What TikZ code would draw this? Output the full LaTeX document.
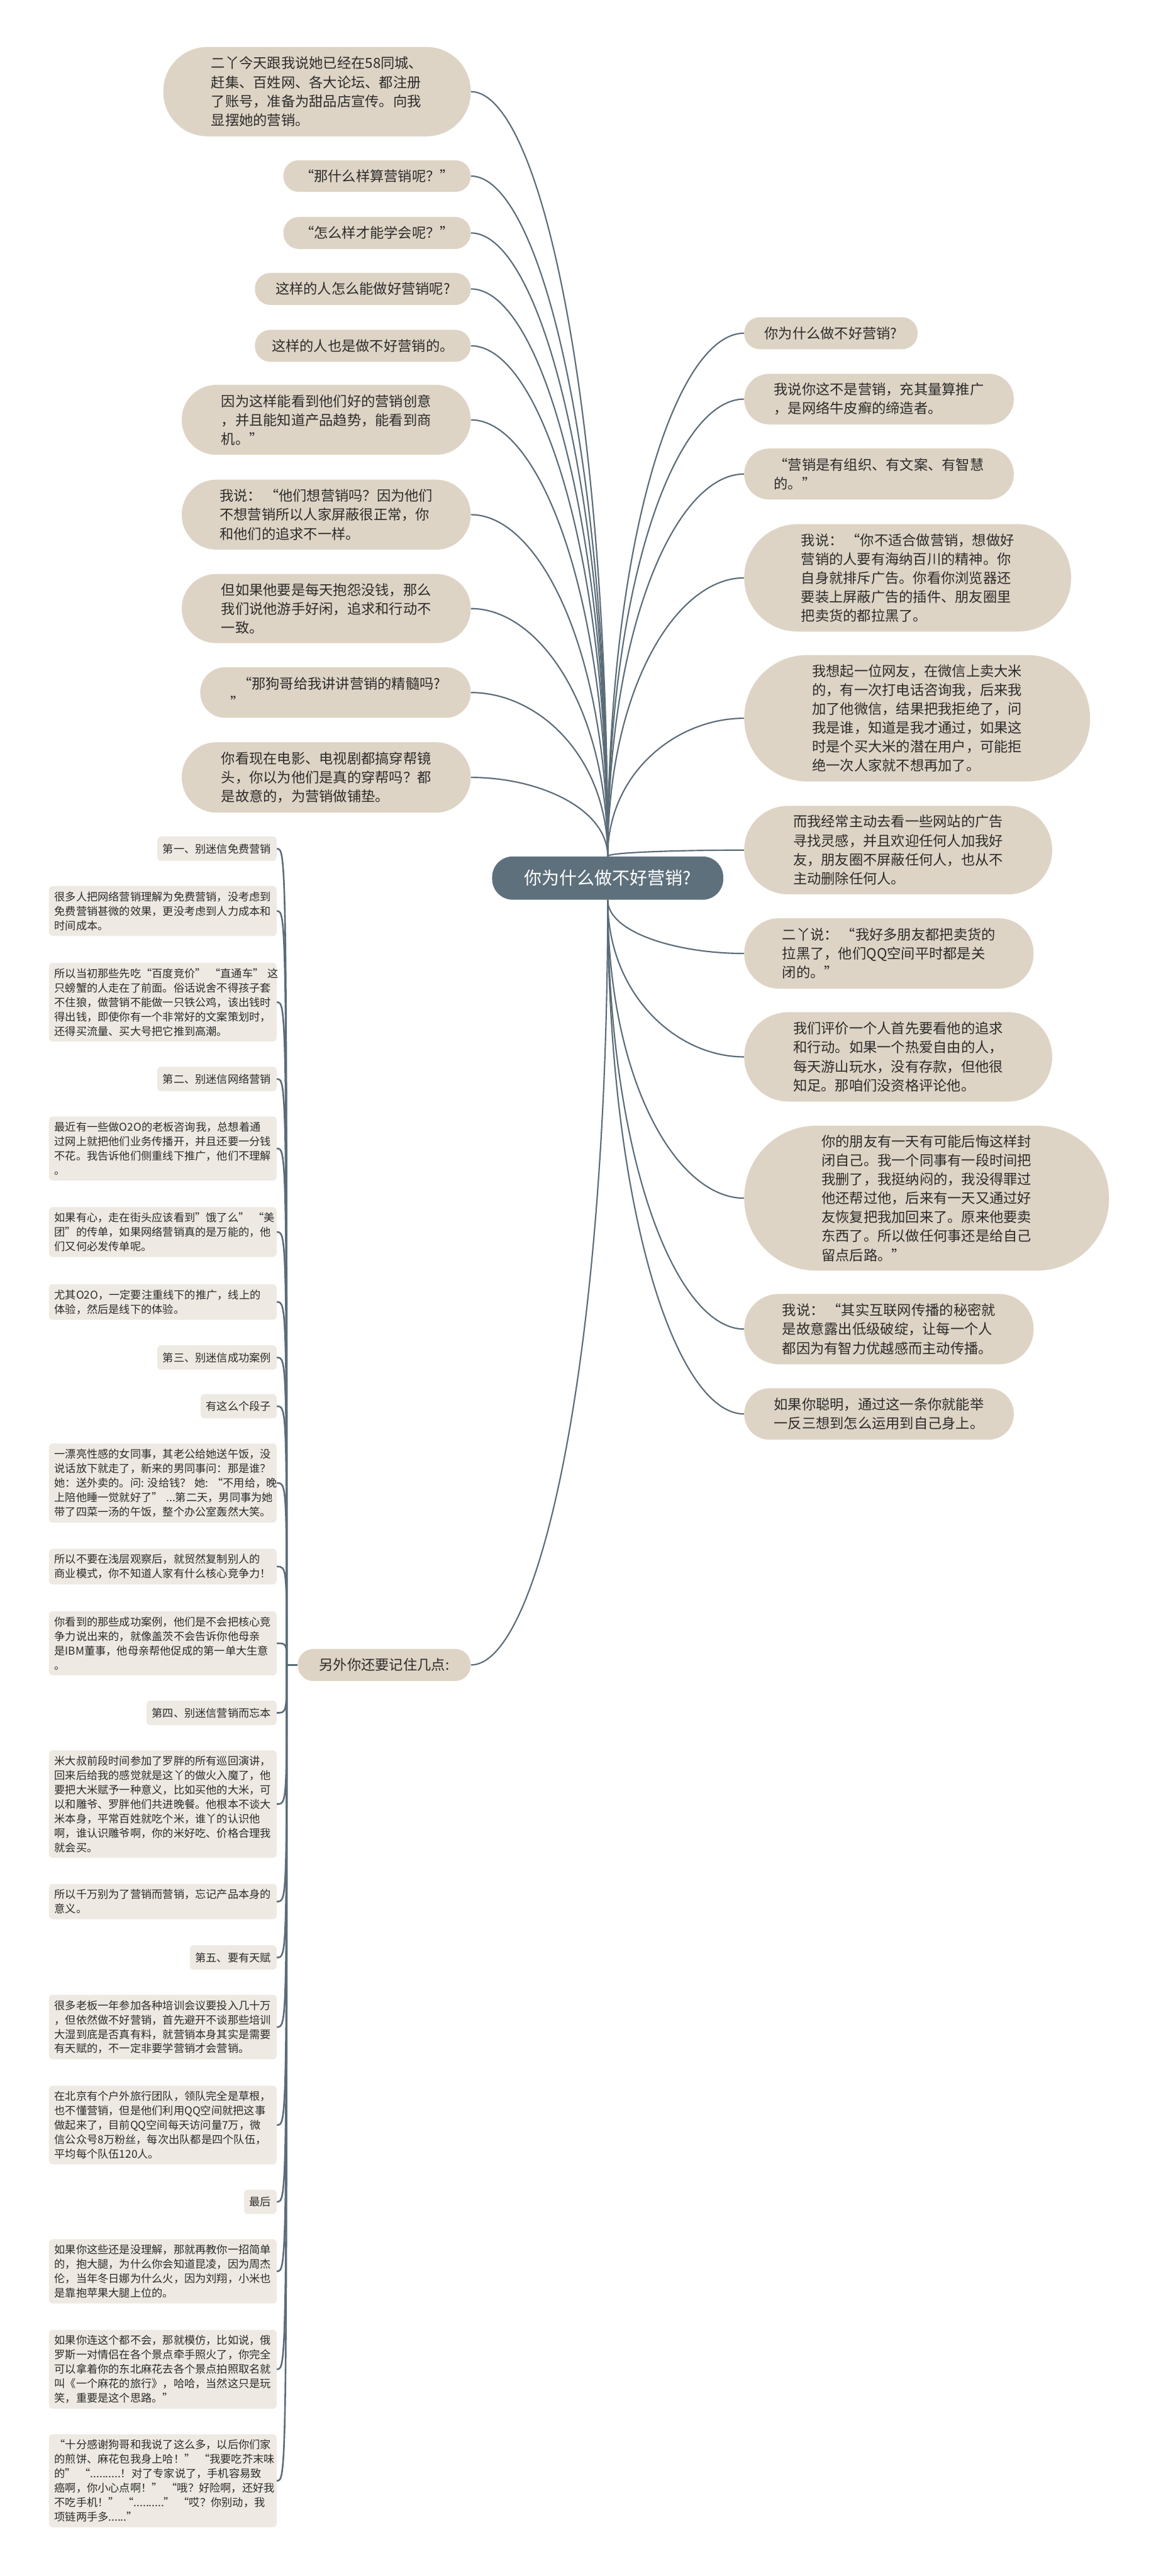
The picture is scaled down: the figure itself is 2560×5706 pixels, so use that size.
\documentclass[tikz,border=0pt]{standalone}
\usepackage{fontspec}
\setmainfont{Noto Sans CJK SC}
\usetikzlibrary{calc,backgrounds}
\definecolor{cHub}{HTML}{5E707C}
\definecolor{cLink}{HTML}{5B6C78}
\definecolor{cLeaf}{HTML}{DED4C5}
\definecolor{cNote}{HTML}{EEEAE3}
\definecolor{cInk}{HTML}{2B2B2B}
\tikzset{
  hub/.style={fill=cHub, text=white, rounded corners=23pt, minimum width=256pt,
              minimum height=48pt, inner sep=0pt, font=\fontsize{19.5}{24}\selectfont},
  leaf/.style 2 args={fill=cLeaf, text=cInk, align=left, inner sep=0pt,
              minimum width=#1*0.5pt, minimum height=#2*0.5pt,
              rounded corners=#2*0.25pt-0.5pt, font=\fontsize{15.5}{21}\selectfont},
  note/.style={fill=cNote, text=cInk, align=left, rounded corners=4pt,
              inner xsep=6pt, inner ysep=6pt, minimum height=27pt, anchor=east,
              font=\fontsize{12}{16}\selectfont},
  para/.style={note, text width=240pt},
  link/.style={draw=cLink, line width=1.5pt},
  twig/.style={draw=cLink, line width=1.8pt},
}

\begin{document}
\begin{tikzpicture}[x=0.5pt, y=-0.5pt]
\useasboundingbox (0,0) rectangle (2560,5706);

% ------------------------------------------------------------------ centre
\node[hub] (hub) at (1346,1945) {你为什么做不好营销?};
\coordinate (hubT) at (hub.north);
\coordinate (hubB) at (hub.south);

% ------------------------------------------------------------------ left, upper
\node[leaf={681}{198}, anchor=east] (n1) at (1043,203)
  {二丫今天跟我说她已经在58同城、\\赶集、百姓网、各大论坛、都注册\\了账号，准备为甜品店宣传。向我\\显摆她的营销。};
\node[leaf={415}{70}, anchor=east] (n2) at (1043,390) {“那什么样算营销呢？”};
\node[leaf={415}{71}, anchor=east] (n3) at (1043,516) {“怎么样才能学会呢？”};
\node[leaf={478}{71}, anchor=east] (n4) at (1043,640) {这样的人怎么能做好营销呢?};
\node[leaf={478}{71}, anchor=east] (n5) at (1043,766) {这样的人也是做不好营销的。};
\node[leaf={640}{155}, anchor=east] (n6) at (1043,930)
  {因为这样能看到他们好的营销创意\\，并且能知道产品趋势，能看到商\\机。”};
\node[leaf={640}{155}, anchor=east] (n7) at (1043,1140)
  {我说： “他们想营销吗？因为他们\\不想营销所以人家屏蔽很正常，你\\和他们的追求不一样。};
\node[leaf={640}{153}, anchor=east] (n8) at (1043,1348)
  {但如果他要是每天抱怨没钱，那么\\我们说他游手好闲，追求和行动不\\一致。};
\node[leaf={599}{112}, anchor=east] (n9) at (1043,1534)
  {\hspace*{8pt}“那狗哥给我讲讲营销的精髓吗?\\”};
\node[leaf={640}{156}, anchor=east] (n10) at (1043,1722)
  {你看现在电影、电视剧都搞穿帮镜\\头，你以为他们是真的穿帮吗？都\\是故意的，为营销做铺垫。};

% ------------------------------------------------------------------ right
\node[leaf={384}{71}, anchor=west] (r1) at (1648,738) {你为什么做不好营销?};
\node[leaf={597}{112}, anchor=west] (r2) at (1648,884)
  {我说你这不是营销，充其量算推广\\，是网络牛皮癣的缔造者。};
\node[leaf={597}{113}, anchor=west] (r3) at (1648,1050)
  {“营销是有组织、有文案、有智慧\\的。”};
\node[leaf={724}{238}, anchor=west] (r4) at (1648,1280)
  {我说： “你不适合做营销，想做好\\营销的人要有海纳百川的精神。你\\自身就排斥广告。你看你浏览器还\\要装上屏蔽广告的插件、朋友圈里\\把卖货的都拉黑了。};
\node[leaf={766}{280}, anchor=west] (r5) at (1648,1591)
  {我想起一位网友，在微信上卖大米\\的，有一次打电话咨询我，后来我\\加了他微信，结果把我拒绝了，问\\我是谁，知道是我才通过，如果这\\时是个买大米的潜在用户，可能拒\\绝一次人家就不想再加了。};
\node[leaf={682}{196}, anchor=west] (r6) at (1648,1883)
  {而我经常主动去看一些网站的广告\\寻找灵感，并且欢迎任何人加我好\\友，朋友圈不屏蔽任何人，也从不\\主动删除任何人。};
\node[leaf={641}{156}, anchor=west] (r7) at (1648,2112)
  {二丫说： “我好多朋友都把卖货的\\拉黑了，他们QQ空间平时都是关\\闭的。”};
\node[leaf={682}{198}, anchor=west] (r8) at (1648,2341)
  {我们评价一个人首先要看他的追求\\和行动。如果一个热爱自由的人，\\每天游山玩水，没有存款，但他很\\知足。那咱们没资格评论他。};
\node[leaf={808}{321}, anchor=west] (r9) at (1648,2654)
  {你的朋友有一天有可能后悔这样封\\闭自己。我一个同事有一段时间把\\我删了，我挺纳闷的，我没得罪过\\他还帮过他，后来有一天又通过好\\友恢复把我加回来了。原来他要卖\\东西了。所以做任何事还是给自己\\留点后路。”};
\node[leaf={641}{156}, anchor=west] (r10) at (1648,2944)
  {我说： “其实互联网传播的秘密就\\是故意露出低级破绽，让每一个人\\都因为有智力优越感而主动传播。};
\node[leaf={597}{114}, anchor=west] (r11) at (1648,3132)
  {如果你聪明，通过这一条你就能举\\一反三想到怎么运用到自己身上。};

% ------------------------------------------------------------------ left, lower
\node[leaf={383}{71}, anchor=east] (more) at (1043,3688) {另外你还要记住几点:};
\coordinate (trunk) at (635,3688);

\node[note] (l1) at (613,1880) {第一、别迷信免费营销};
\node[para] (l2) at (613,2018)
  {很多人把网络营销理解为免费营销，没考虑到\\免费营销甚微的效果，更没考虑到人力成本和\\时间成本。};
\node[para] (l3) at (613,2220)
  {所以当初那些先吃“百度竞价”~“直通车”~这\\只螃蟹的人走在了前面。俗话说舍不得孩子套\\不住狼，做营销不能做一只铁公鸡，该出钱时\\得出钱，即使你有一个非常好的文案策划时，\\还得买流量、买大号把它推到高潮。};
\node[note] (l4) at (613,2390) {第二、别迷信网络营销};
\node[para] (l5) at (613,2544)
  {最近有一些做O2O的老板咨询我，总想着通\\过网上就把他们业务传播开，并且还要一分钱\\不花。我告诉他们侧重线下推广，他们不理解\\。};
\node[para] (l6) at (613,2729)
  {如果有心，走在街头应该看到”饿了么”~“美\\团”的传单，如果网络营销真的是万能的，他\\们又何必发传单呢。};
\node[para] (l7) at (613,2884)
  {尤其O2O，一定要注重线下的推广，线上的\\体验，然后是线下的体验。};
\node[note] (l8) at (613,3007) {第三、别迷信成功案例};
\node[note] (l9) at (613,3115) {有这么个段子};
\node[para] (l10) at (613,3285)
  {一漂亮性感的女同事，其老公给她送午饭，没\\说话放下就走了，新来的男同事问：那是谁？\\她：送外卖的。问:~没给钱？~她:~“不用给，晚\\上陪他睡一觉就好了”~...第二天，男同事为她\\带了四菜一汤的午饭，整个办公室轰然大笑。};
\node[para] (l11) at (613,3470)
  {所以不要在浅层观察后，就贸然复制别人的\\商业模式，你不知道人家有什么核心竞争力！};
\node[para] (l12) at (613,3640)
  {你看到的那些成功案例，他们是不会把核心竞\\争力说出来的，就像盖茨不会告诉你他母亲\\是IBM董事，他母亲帮他促成的第一单大生意\\。};
\node[note] (l13) at (613,3794) {第四、别迷信营销而忘本};
\node[para] (l14) at (613,3996)
  {米大叔前段时间参加了罗胖的所有巡回演讲，\\回来后给我的感觉就是这丫的做火入魔了，他\\要把大米赋予一种意义，比如买他的大米，可\\以和雕爷、罗胖他们共进晚餐。他根本不谈大\\米本身，平常百姓就吃个米，谁丫的认识他\\啊，谁认识雕爷啊，你的米好吃、价格合理我\\就会买。};
\node[para] (l15) at (613,4212)
  {所以千万别为了营销而营销，忘记产品本身的\\意义。};
\node[note] (l16) at (613,4336) {第五、要有天赋};
\node[para] (l17) at (613,4490)
  {很多老板一年参加各种培训会议要投入几十万\\，但依然做不好营销，首先避开不谈那些培训\\大湿到底是否真有料，就营销本身其实是需要\\有天赋的，不一定非要学营销才会营销。};
\node[para] (l18) at (613,4707)
  {在北京有个户外旅行团队，领队完全是草根，\\也不懂营销，但是他们利用QQ空间就把这事\\做起来了，目前QQ空间每天访问量7万，微\\信公众号8万粉丝，每次出队都是四个队伍，\\平均每个队伍120人。};
\node[note] (l19) at (613,4877) {最后};
\node[para] (l20) at (613,5031)
  {如果你这些还是没理解，那就再教你一招简单\\的，抱大腿，为什么你会知道昆凌，因为周杰\\伦，当年冬日娜为什么火，因为刘翔，小米也\\是靠抱苹果大腿上位的。};
\node[para] (l21) at (613,5248)
  {如果你连这个都不会，那就模仿，比如说，俄\\罗斯一对情侣在各个景点牵手照火了，你完全\\可以拿着你的东北麻花去各个景点拍照取名就\\叫《一个麻花的旅行》，哈哈，当然这只是玩\\笑，重要是这个思路。”};
\node[para] (l22) at (613,5495)
  {“十分感谢狗哥和我说了这么多，以后你们家\\的煎饼、麻花包我身上哈！”~“我要吃芥末味\\的”~“..........！对了专家说了，手机容易致\\癌啊，你小心点啊！”~“哦？好险啊，还好我\\不吃手机！”~“..........”~“哎？你别动，我\\项链两手多......”};

% ------------------------------------------------------------------ connectors
\begin{scope}[on background layer]
  \foreach \n in {n1,n2,n3,n4,n5,n6,n7,n8,n9,n10}
    \draw[link] (\n.east) .. controls ($(\n.east)!.5!(\n.east -| hubT)$)
      and ($(hubT)!.6!(hubT |- \n.east)$) .. (hubT);
  \foreach \n in {r1,r2,r3,r4,r5,r6}
    \draw[link] (hubT) .. controls ($(hubT)!.6!(hubT |- \n.west)$)
      and ($(\n.west)!.5!(\n.west -| hubT)$) .. (\n.west);
  \foreach \n in {r7,r8,r9,r10,r11}
    \draw[link] (hubB) .. controls ($(hubB)!.6!(hubB |- \n.west)$)
      and ($(\n.west)!.5!(\n.west -| hubB)$) .. (\n.west);
  \draw[link] (more.east) .. controls ($(more.east)!.5!(more.east -| hubB)$)
    and ($(hubB)!.6!(hubB |- more.east)$) .. (hubB);
  \draw[twig] (more.west) -- (trunk);
  \foreach \n in {l1,l2,l3,l4,l5,l6,l7,l8,l9,l10,l11,l12,l13,l14,l15,l16,l17,l18,l19,l20,l21,l22}
    \draw[twig] (trunk) .. controls (trunk |- \n.east) and (trunk |- \n.east) .. (\n.east);
\end{scope}

\end{tikzpicture}
\end{document}
